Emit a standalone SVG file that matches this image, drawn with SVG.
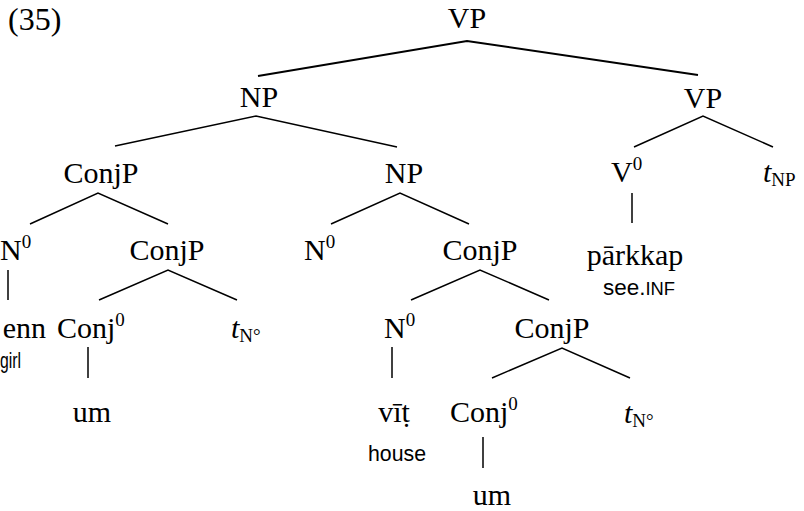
<svg xmlns="http://www.w3.org/2000/svg" width="804" height="511" viewBox="0 0 804 511">
<style>
.t{font-family:'Liberation Serif','Times New Roman',serif;font-size:30px;fill:#000}
.c{text-anchor:middle}
.g{font-family:'Liberation Sans',Arial,sans-serif;font-size:22px;fill:#000}
.sc{font-size:18px}
.sup{font-size:19px}
.i{font-style:italic}
.e{stroke:#000;stroke-width:1.5;fill:none}
.top{stroke-width:2}
</style>
<rect width="804" height="511" fill="#fff"/>
<g font-family="Liberation Serif">
<text class="t" x="8" y="30" font-family="Liberation Serif" style="font-size:32px">(35)</text>
<g id="connectors">
<polyline class="e top" points="258,76 467,41 698,75"/>
<polyline class="e" points="115,146 256,116 397,147"/>
<polyline class="e" points="634,147 703,116 773,147"/>
<polyline class="e" points="30,224 98,193 168,224"/>
<polyline class="e" points="331,224 400,193 469,224"/>
<line class="e" x1="632" y1="193" x2="632" y2="223"/>
<line class="e" x1="8" y1="270" x2="8" y2="300"/>
<polyline class="e" points="99,300 168,270 237,300"/>
<polyline class="e" points="411,300 480,270 549,300"/>
<line class="e" x1="88" y1="347" x2="88" y2="378"/>
<line class="e" x1="392" y1="347" x2="392" y2="378"/>
<polyline class="e" points="492,378 562,348 630,378"/>
<line class="e" x1="483" y1="437" x2="483" y2="468"/>
</g>
<g id="vp-top"><text class="t c" x="467" y="28">VP</text></g>
<g id="np1"><text class="t c" x="259" y="107">NP</text></g>
<g id="vp2"><text class="t c" x="703" y="108">VP</text></g>
<g id="conjp1"><text class="t c" x="101" y="183">ConjP</text></g>
<g id="np2"><text class="t c" x="404" y="183">NP</text></g>
<g id="v0"><text class="t" x="611" y="182">V<tspan class="sup" dy="-12">0</tspan></text></g>
<g id="t-np"><text class="t" x="763" y="182"><tspan class="i">t</tspan><tspan class="sup" dy="4">NP</tspan></text></g>
<g id="n0-a"><text class="t" x="0" y="260">N<tspan class="sup" dy="-12">0</tspan></text></g>
<g id="conjp2"><text class="t c" x="167" y="260">ConjP</text></g>
<g id="n0-b"><text class="t" x="304" y="260">N<tspan class="sup" dy="-12">0</tspan></text></g>
<g id="conjp3"><text class="t c" x="480" y="260">ConjP</text></g>
<g id="parkkap"><text class="t c" x="635" y="265">pārkkap</text><text class="g" x="603" y="295" textLength="72" lengthAdjust="spacingAndGlyphs">see.<tspan class="sc">INF</tspan></text></g>
<g id="enn"><text class="t" x="46" y="338" text-anchor="end">enn</text><text class="g" x="0" y="368" textLength="21" lengthAdjust="spacingAndGlyphs">girl</text></g>
<g id="conj0-a"><text class="t" x="57" y="338">Conj<tspan class="sup" dy="-12">0</tspan></text></g>
<g id="t-n-a"><text class="t" x="231" y="338"><tspan class="i">t</tspan><tspan class="sup" dy="4">N°</tspan></text></g>
<g id="n0-c"><text class="t" x="384" y="338">N<tspan class="sup" dy="-12">0</tspan></text></g>
<g id="conjp4"><text class="t c" x="552" y="338">ConjP</text></g>
<g id="um-a"><text class="t c" x="92" y="422">um</text></g>
<g id="vit"><text class="t c" x="394" y="422">vīṭ</text><text class="g" x="368" y="461" textLength="58" lengthAdjust="spacingAndGlyphs">house</text></g>
<g id="conj0-b"><text class="t" x="450" y="422">Conj<tspan class="sup" dy="-12">0</tspan></text></g>
<g id="t-n-b"><text class="t" x="624" y="423"><tspan class="i">t</tspan><tspan class="sup" dy="4">N°</tspan></text></g>
<g id="um-b"><text class="t c" x="492" y="505">um</text></g>
</g>
</svg>
